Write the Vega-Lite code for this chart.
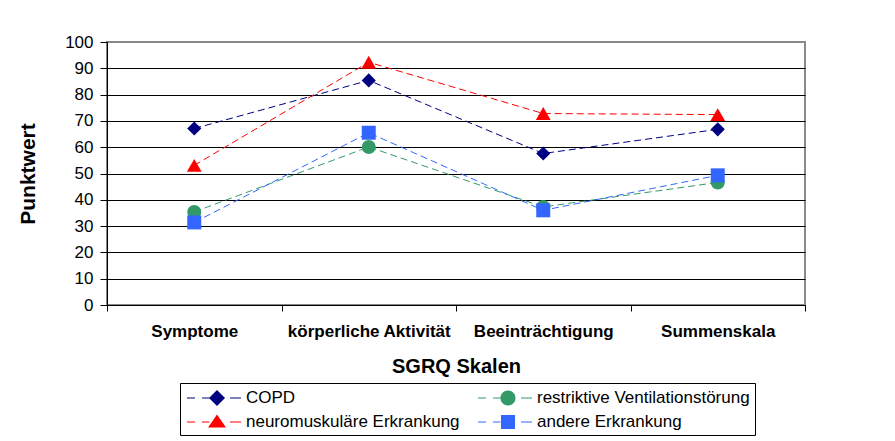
{
  "$schema": "https://vega.github.io/schema/vega-lite/v6.json",
  "width": 698,
  "height": 263,
  "autosize": {"type": "none"},
  "padding": {"left": 107, "top": 42, "right": 90, "bottom": 136},
  "background": "white",
  "config": {
    "font": "Liberation Sans",
    "view": {"stroke": "#888888", "strokeWidth": 2},
    "axis": {"labelFont": "Liberation Sans", "titleFont": "Liberation Sans", "labelColor": "black", "titleColor": "black", "domainColor": "black", "tickColor": "black"}
  },
  "data": {
    "values": [
      {"skala": "Symptome", "gruppe": "COPD", "punktwert": 67.1},
      {"skala": "körperliche Aktivität", "gruppe": "COPD", "punktwert": 85.4},
      {"skala": "Beeinträchtigung", "gruppe": "COPD", "punktwert": 57.6},
      {"skala": "Summenskala", "gruppe": "COPD", "punktwert": 66.8},
      {"skala": "Symptome", "gruppe": "restriktive Ventilationstörung", "punktwert": 35.4},
      {"skala": "körperliche Aktivität", "gruppe": "restriktive Ventilationstörung", "punktwert": 60.1},
      {"skala": "Beeinträchtigung", "gruppe": "restriktive Ventilationstörung", "punktwert": 37.3},
      {"skala": "Summenskala", "gruppe": "restriktive Ventilationstörung", "punktwert": 46.6},
      {"skala": "Symptome", "gruppe": "neuromuskuläre Erkrankung", "punktwert": 53.1},
      {"skala": "körperliche Aktivität", "gruppe": "neuromuskuläre Erkrankung", "punktwert": 92.3},
      {"skala": "Beeinträchtigung", "gruppe": "neuromuskuläre Erkrankung", "punktwert": 72.8},
      {"skala": "Summenskala", "gruppe": "neuromuskuläre Erkrankung", "punktwert": 72.4},
      {"skala": "Symptome", "gruppe": "andere Erkrankung", "punktwert": 31.4},
      {"skala": "körperliche Aktivität", "gruppe": "andere Erkrankung", "punktwert": 65.5},
      {"skala": "Beeinträchtigung", "gruppe": "andere Erkrankung", "punktwert": 36.0},
      {"skala": "Summenskala", "gruppe": "andere Erkrankung", "punktwert": 49.3}
    ]
  },
  "encoding": {
    "x": {
      "field": "skala", "type": "nominal", "sort": null,
      "scale": {"paddingInner": 0, "paddingOuter": 0},
      "axis": {
        "title": "SGRQ Skalen", "labelAngle": 0, "tickBand": "extent",
        "tickSize": 6, "labelPadding": 12, "labelFontSize": 17, "labelFontWeight": "bold",
        "titleFontSize": 20, "titleFontWeight": "bold", "titlePadding": 17,
        "domainWidth": 1, "tickWidth": 1
      }
    },
    "y": {
      "field": "punktwert", "type": "quantitative",
      "scale": {"domain": [0, 100], "nice": false},
      "axis": {
        "title": "Punktwert", "values": [0, 10, 20, 30, 40, 50, 60, 70, 80, 90, 100],
        "tickSize": 7, "labelPadding": 7, "labelFontSize": 17,
        "titleFontSize": 21, "titleFontWeight": "bold", "titlePadding": 26,
        "grid": true, "gridColor": {"condition": {"test": "datum.value === 100", "value": "#888888"}, "value": "black"},
        "gridOpacity": 1, "gridWidth": 1, "domainWidth": 1, "tickWidth": 1
      }
    },
    "color": {
      "field": "gruppe", "type": "nominal",
      "scale": {
        "domain": ["COPD", "restriktive Ventilationstörung", "neuromuskuläre Erkrankung", "andere Erkrankung"],
        "range": ["#000080", "#339966", "#ff0000", "#3366ff"]
      },
      "legend": null
    }
  },
  "layer": [
    {
      "mark": {"type": "point", "filled": true, "opacity": 1, "size": 0},
      "encoding": {
        "color": {
          "field": "gruppe", "type": "nominal",
          "legend": {
            "title": null, "orient": "none", "legendX": 73, "legendY": 341,
            "direction": "horizontal", "columns": 2, "columnPadding": 16, "rowPadding": 6,
            "padding": 5, "strokeColor": "black", "fillColor": "white",
            "symbolSize": 400, "symbolStrokeWidth": 0, "symbolOffset": 22, "labelOffset": 19,
            "labelFontSize": 17, "labelColor": "black", "labelFont": "Liberation Sans", "labelLimit": 400
          }
        },
        "shape": {
          "field": "gruppe", "type": "nominal",
          "scale": {
            "domain": ["COPD", "restriktive Ventilationstörung", "neuromuskuläre Erkrankung", "andere Erkrankung"],
            "range": [
              "M-3,-0.05 H-2.2 V0.05 H-3 Z M-1.5,-0.05 H-0.75 V0.05 H-1.5 Z M1.3,-0.05 H2.4 V0.05 H1.3 Z M0,-0.8 L0.8,0 L0,0.8 L-0.8,0 Z",
              "M-3,-0.05 H-2.2 V0.05 H-3 Z M-1.5,-0.05 H-0.75 V0.05 H-1.5 Z M1.3,-0.05 H2.4 V0.05 H1.3 Z M-0.75,0 A0.75,0.75 0 1,0 0.75,0 A0.75,0.75 0 1,0 -0.75,0 Z",
              "M-3,-0.05 H-2.2 V0.05 H-3 Z M-1.5,-0.05 H-0.75 V0.05 H-1.5 Z M1.3,-0.05 H2.4 V0.05 H1.3 Z M0,-0.75 L0.9,0.55 L-0.9,0.55 Z",
              "M-3,-0.05 H-2.2 V0.05 H-3 Z M-1.5,-0.05 H-0.75 V0.05 H-1.5 Z M1.3,-0.05 H2.4 V0.05 H1.3 Z M-0.7,-0.7 H0.7 V0.7 H-0.7 Z"
            ]
          },
          "legend": {
            "title": null, "orient": "none", "legendX": 73, "legendY": 341,
            "direction": "horizontal", "columns": 2, "columnPadding": 16, "rowPadding": 6,
            "padding": 5, "strokeColor": "black", "fillColor": "white",
            "symbolSize": 400, "symbolStrokeWidth": 0, "symbolOffset": 22, "labelOffset": 19,
            "labelFontSize": 17, "labelColor": "black", "labelFont": "Liberation Sans", "labelLimit": 400
          }
        }
      }
    },
    {"mark": {"type": "line", "strokeDash": [7, 4], "strokeWidth": 1}},
    {
      "transform": [{"filter": "datum.gruppe === 'COPD'"}],
      "mark": {"type": "point", "shape": "diamond", "filled": true, "opacity": 1, "size": 200}
    },
    {
      "transform": [{"filter": "datum.gruppe === 'restriktive Ventilationstörung'"}],
      "mark": {"type": "point", "shape": "circle", "filled": true, "opacity": 1, "size": 196}
    },
    {
      "transform": [{"filter": "datum.gruppe === 'neuromuskuläre Erkrankung'"}],
      "mark": {"type": "point", "shape": "triangle-up", "filled": true, "opacity": 1, "size": 220}
    },
    {
      "transform": [{"filter": "datum.gruppe === 'andere Erkrankung'"}],
      "mark": {"type": "point", "shape": "square", "filled": true, "opacity": 1, "size": 196}
    }
  ]
}
